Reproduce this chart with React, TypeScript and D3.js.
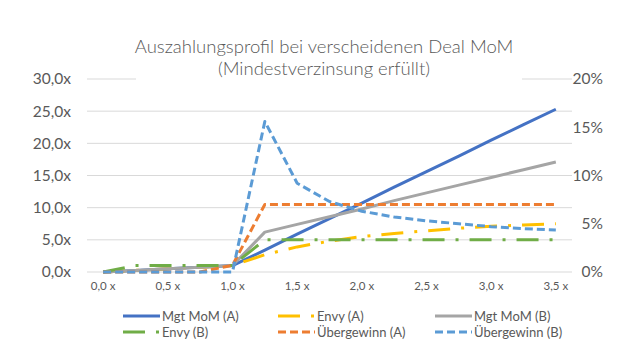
import React from "react";
import * as d3 from "d3";

const categories = [0, 0.25, 0.5, 0.75, 1.0, 1.25, 1.5, 1.75, 2.0, 2.25, 2.5, 2.75, 3.0, 3.25, 3.5];
const xTickValues = [0, 0.5, 1.0, 1.5, 2.0, 2.5, 3.0, 3.5];
const leftTicks = [0, 5, 10, 15, 20, 25, 30];
const rightTicks = [0, 5, 10, 15, 20];

const mgtMomA = [0, 0.25, 0.5, 0.75, 1.0, 3.4, 5.9, 8.3, 10.7, 13.2, 15.6, 18.0, 20.5, 22.9, 25.3];
const envyA = [0, 0.25, 0.5, 0.75, 1.0, 2.7, 3.9, 4.8, 5.5, 6.0, 6.4, 6.8, 7.1, 7.3, 7.5];
const mgtMomB = [0, 0.25, 0.5, 0.75, 1.0, 6.2, 7.4, 8.6, 9.8, 11.1, 12.3, 13.5, 14.7, 15.9, 17.1];
const envyB = [0, 1, 1, 1, 1, 5, 5, 5, 5, 5, 5, 5, 5, 5, 5];
const uebergewinnA = [0, 0, 0, 0, 0.7, 7.0, 7.0, 7.0, 7.0, 7.0, 7.0, 7.0, 7.0, 7.0, 7.0];
const uebergewinnB = [0, 0, 0, 0, 0, 15.6, 9.2, 7.3, 6.3, 5.7, 5.3, 5.0, 4.7, 4.5, 4.35];

const titleLines = ["Auszahlungsprofil bei verscheidenen Deal MoM", "(Mindestverzinsung erfüllt)"];

type Series = {
  name: string;
  values: number[];
  color: string;
  dash: string | null;
  axis: "left" | "right";
};

const series: Series[] = [
  { name: "Mgt MoM (A)", values: mgtMomA, color: "#4472C4", dash: null, axis: "left" },
  { name: "Envy (A)", values: envyA, color: "#FFC000", dash: "22,11,3,11", axis: "left" },
  { name: "Mgt MoM (B)", values: mgtMomB, color: "#A5A5A5", dash: null, axis: "left" },
  { name: "Envy (B)", values: envyB, color: "#70AD47", dash: "22,11,3,11", axis: "left" },
  { name: "Übergewinn (A)", values: uebergewinnA, color: "#ED7D31", dash: "8,4", axis: "right" },
  { name: "Übergewinn (B)", values: uebergewinnB, color: "#5B9BD5", dash: "8,4", axis: "right" },
];

const legendOrder = [0, 1, 2, 3, 4, 5];

const W = 642;
const H = 360;
const FONT = "Lato, 'Open Sans', sans-serif";
const TEXT = "#595959";

const fmtX = (v: number) => v.toFixed(1).replace(".", ",") + " x";
const fmtL = (v: number) => v.toFixed(1).replace(".", ",") + "x";
const fmtR = (v: number) => v + "%";

export default function App() {
  const x = d3.scalePoint<number>().domain(categories).range([87, 572]).padding(0.5);
  const yL = d3.scaleLinear().domain([0, 30]).range([272, 79]);
  const yR = d3.scaleLinear().domain([0, 20]).range([272, 79]);

  const lineFor = (s: Series) =>
    d3
      .line<number>()
      .x((_, i) => x(categories[i]) as number)
      .y((v) => (s.axis === "left" ? yL(v) : yR(v)))(s.values) as string;

  const legendCols = [123, 278, 435];
  const legendRows = [316, 332];

  return (
    <svg
      width={W}
      height={H}
      style={{ position: "absolute", left: 0, top: 0, background: "#fff" }}
      fontFamily={FONT}
    >
      <rect x={0} y={0} width={W} height={H} fill="#fff" />
      {leftTicks.map((t) => (
        <line key={t} x1={87} x2={572} y1={yL(t)} y2={yL(t)} stroke="#D9D9D9" strokeWidth={1} />
      ))}
      <rect x={136} y={30} width={386} height={52} fill="#fff" />
      {titleLines.map((t, i) => (
        <text key={i} x={324} y={53 + i * 22} textAnchor="middle" fontSize={18.5} fontWeight={300} fill={TEXT}>
          {t}
        </text>
      ))}
      {leftTicks.map((t) => (
        <text key={t} x={71} y={yL(t)} dy="0.35em" textAnchor="end" fontSize={15.5} fill={TEXT}>
          {fmtL(t)}
        </text>
      ))}
      {rightTicks.map((t) => (
        <text key={t} x={603} y={yR(t)} dy="0.35em" textAnchor="end" fontSize={15.5} fill={TEXT}>
          {fmtR(t)}
        </text>
      ))}
      {xTickValues.map((t) => (
        <text key={t} x={x(t) as number} y={290} textAnchor="middle" fontSize={11.5} fill={TEXT}>
          {fmtX(t)}
        </text>
      ))}
      {series.map((s) => (
        <path
          key={s.name}
          d={lineFor(s)}
          fill="none"
          stroke={s.color}
          strokeWidth={3}
          strokeDasharray={s.dash ?? undefined}
          strokeLinejoin="round"
        />
      ))}
      {legendOrder.map((idx, k) => {
        const s = series[idx];
        const cx = legendCols[k % 3];
        const cy = legendRows[Math.floor(k / 3)];
        return (
          <g key={s.name}>
            <line
              x1={cx}
              x2={cx + 37}
              y1={cy}
              y2={cy}
              stroke={s.color}
              strokeWidth={3}
              strokeDasharray={s.dash ?? undefined}
            />
            <text x={cx + 39} y={cy} dy="0.35em" fontSize={13} fill={TEXT}>
              {s.name}
            </text>
          </g>
        );
      })}
    </svg>
  );
}
